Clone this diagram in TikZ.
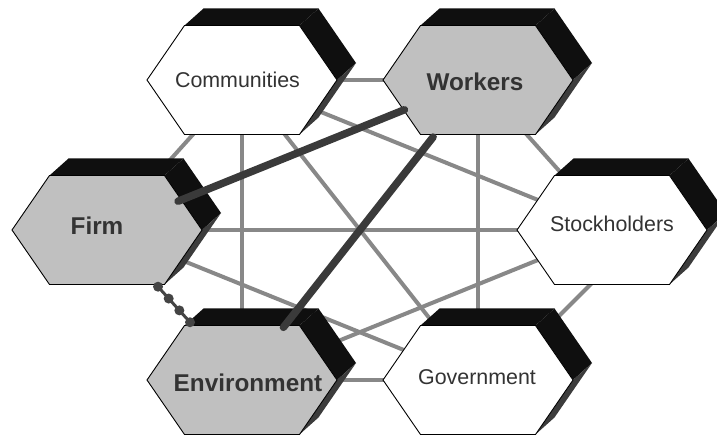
\documentclass[tikz,border=0pt]{standalone}
\usepackage{fontspec}
\setmainfont{Liberation Sans}
\usetikzlibrary{calc}
\definecolor{hexgray}{RGB}{192,192,192}
\definecolor{linegray}{RGB}{136,136,136}
\definecolor{thickc}{RGB}{58,58,58}
\definecolor{dotcol}{RGB}{68,68,68}
\definecolor{txtc}{RGB}{51,51,51}
\definecolor{sidetopc}{RGB}{15,15,15}
\definecolor{sidelowc}{RGB}{60,60,60}
\tikzset{
  thinlink/.style={draw=linegray, line width=4pt},
  thicklink/.style={draw=thickc, line width=7.5pt, line cap=round},
  dotlink/.style={draw=dotcol, line width=3pt},
  dotc/.style={fill=dotcol},
  labreg/.style={anchor=base, text=txtc, font=\fontsize{21.4}{25}\selectfont, inner sep=0pt},
  labbold/.style={anchor=base, text=txtc, font=\fontsize{24.3}{28}\selectfont\bfseries, inner sep=0pt},
  pics/hexbox/.style={code={
    \fill[sidetopc] (-57.5,-54.5) -- (57.5,-54.5) -- (76.5,-71.5) -- (-38.5,-71.5) -- cycle;
    \fill[sidetopc] (57.5,-54.5) -- (95,0) -- (114,-17) -- (76.5,-71.5) -- cycle;
    \fill[sidelowc] (95,0) -- (57.5,54.5) -- (76.5,37.5) -- (114,-17) -- cycle;
    \draw[black, line width=0.9pt, line join=miter, fill=#1]
      (-95,0) -- (-57.5,-54.5) -- (57.5,-54.5) -- (95,0) -- (57.5,54.5) -- (-57.5,54.5) -- cycle;
  }}
}
\begin{document}
\begin{tikzpicture}[x=1pt, y=-1pt]
\useasboundingbox (0,0) rectangle (717,435);
% centres
\coordinate (communities) at (242,80);
\coordinate (workers) at (478,80);
\coordinate (firm) at (107,230);
\coordinate (stockholders) at (612,230);
\coordinate (environment) at (242,380);
\coordinate (government) at (478,380);
\coordinate (stockA) at (640,235);
\coordinate (govA) at (497,378);
% thin links (behind)
\draw[thinlink] (communities) -- (workers);
\draw[thinlink] (communities) -- (environment);
\draw[thinlink] (communities) -- (government);
\draw[thinlink] (communities) -- (stockholders);
\draw[thinlink] (communities) -- (firm);
\draw[thinlink] (workers) -- (government);
\draw[thinlink] (workers) -- (stockholders);
\draw[thinlink] (firm) -- (stockholders);
\draw[thinlink] (firm) -- (government);
\draw[thinlink] (environment) -- (stockholders);
\draw[thinlink] (environment) -- (government);
\draw[thinlink] (stockA) -- (govA);
% hexagons
\pic at (communities) {hexbox=white};
\pic at (workers) {hexbox=hexgray};
\pic at (firm) {hexbox=hexgray};
\pic at (stockholders) {hexbox=white};
\pic at (environment) {hexbox=hexgray};
\pic at (government) {hexbox=white};
% labels
\node[labreg] (communities-l) at (237.5,87.5) {Communities};
\node[labbold] (workers-l) at (475,90.5) {Workers};
\node[labbold] (firm-l) at (97,235) {Firm};
\node[labreg] (stockholders-l) at (612,231.5) {Stockholders};
\node[labbold] (environment-l) at (248,391) {Environment};
\node[labreg] (government-l) at (477,384.5) {Government};
% thick links (on top)
\draw[thicklink, shorten <=76.7pt, shorten >=79.3pt] (firm) -- (workers);
\draw[thicklink, shorten <=72.6pt, shorten >=67pt] (workers) -- (environment);
% dotted link
\draw[dotlink] ($(firm)!0.378!(environment)$) -- ($(firm)!0.615!(environment)$);
\foreach \t in {0.378,0.457,0.536,0.615}
  \fill[dotc] ($(firm)!\t!(environment)$) circle (5pt);
\end{tikzpicture}
\end{document}
